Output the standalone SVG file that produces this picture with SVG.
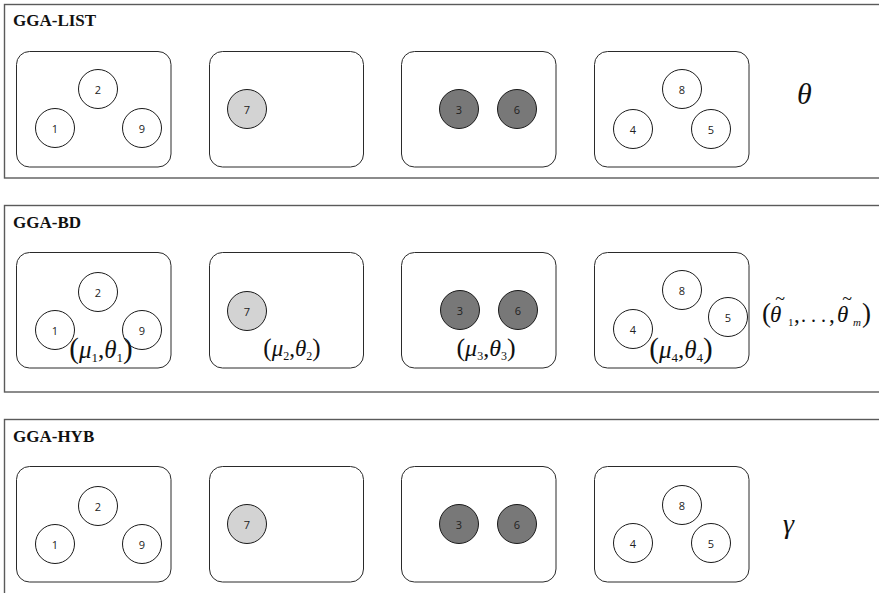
<svg xmlns="http://www.w3.org/2000/svg" width="879" height="593" viewBox="0 0 879 593">
<style>
.panel{fill:#fff;stroke:#5a5a5a;stroke-width:1.4}
.box{fill:#fff;stroke:#2a2a2a;stroke-width:1}
.c{stroke:#1a1a1a;stroke-width:1}
.w{fill:#fff}.l{fill:#d3d3d3}.d{fill:#787878}
.n{font-family:"Open Sans","Liberation Sans",sans-serif;font-size:11px;fill:#222;text-anchor:middle;dominant-baseline:central}
.title{font-family:"Liberation Serif","Times New Roman",serif;font-weight:bold;font-size:17px;fill:#111}
.m{font-family:"Liberation Serif","Times New Roman",serif;fill:#111}
.i{font-style:italic}
</style>
<rect width="879" height="593" fill="#fff"/>
<g id="panel-list">
<rect class="panel" x="4.5" y="4.5" width="900" height="173.5"/>
<text class="title" x="13" y="26">GGA-LIST</text>
</g>
<g id="panel-bd">
<rect class="panel" x="4.5" y="205.5" width="900" height="186.5"/>
<text class="title" x="13" y="228">GGA-BD</text>
</g>
<g id="panel-hyb">
<rect class="panel" x="4.5" y="419.5" width="900" height="200"/>
<text class="title" x="13" y="442">GGA-HYB</text>
</g>
<g id="connectors"></g>

<!-- Panel 1 -->
<g id="list-box1"><rect class="box" x="16.5" y="51.5" width="154.5" height="115.5" rx="13"/>
<circle class="c w" cx="98" cy="89" r="19.5"/><text class="n" x="98" y="89">2</text>
<circle class="c w" cx="55" cy="128" r="19.5"/><text class="n" x="55" y="128">1</text>
<circle class="c w" cx="142" cy="128" r="19.5"/><text class="n" x="142" y="128">9</text></g>
<g id="list-box2"><rect class="box" x="209.5" y="51.5" width="154" height="115.5" rx="13"/>
<circle class="c l" cx="247" cy="109" r="19.5"/><text class="n" x="247" y="109">7</text></g>
<g id="list-box3"><rect class="box" x="401.5" y="51.5" width="154.5" height="115.5" rx="13"/>
<circle class="c d" cx="459" cy="109" r="19.5"/><text class="n" x="459" y="109">3</text>
<circle class="c d" cx="517" cy="109" r="19.5"/><text class="n" x="517" y="109">6</text></g>
<g id="list-box4"><rect class="box" x="594.5" y="51.5" width="154.5" height="115.5" rx="13"/>
<circle class="c w" cx="682" cy="89" r="19.5"/><text class="n" x="682" y="89">8</text>
<circle class="c w" cx="633" cy="129" r="19.5"/><text class="n" x="633" y="129">4</text>
<circle class="c w" cx="711" cy="129" r="19.5"/><text class="n" x="711" y="129">5</text></g>
<text id="list-theta" class="m i" x="797" y="104" font-size="30">θ</text>

<!-- Panel 2 -->
<g id="bd-box1"><rect class="box" x="16.5" y="252.5" width="154.5" height="115.5" rx="13"/>
<circle class="c w" cx="98" cy="292" r="19.5"/><text class="n" x="98" y="292">2</text>
<circle class="c w" cx="55" cy="330" r="19.5"/><text class="n" x="55" y="330">1</text>
<circle class="c w" cx="142" cy="330" r="19.5"/><text class="n" x="142" y="330">9</text>
<text class="m" x="101" y="358" font-size="25" text-anchor="middle"><tspan font-size="29">(</tspan><tspan class="i">μ</tspan><tspan font-size="13" dy="4">1</tspan><tspan dy="-4">,</tspan><tspan class="i">θ</tspan><tspan font-size="13" dy="4">1</tspan><tspan font-size="29" dy="-4">)</tspan></text></g>
<g id="bd-box2"><rect class="box" x="209.5" y="252.5" width="154" height="115.5" rx="13"/>
<circle class="c l" cx="247" cy="311" r="19.5"/><text class="n" x="247" y="311">7</text>
<text class="m" x="292" y="356" font-size="23" text-anchor="middle"><tspan font-size="25">(</tspan><tspan class="i">μ</tspan><tspan font-size="12" dy="4">2</tspan><tspan dy="-4">,</tspan><tspan class="i">θ</tspan><tspan font-size="12" dy="4">2</tspan><tspan font-size="25" dy="-4">)</tspan></text></g>
<g id="bd-box3"><rect class="box" x="401.5" y="252.5" width="154.5" height="115.5" rx="13"/>
<circle class="c d" cx="460" cy="310" r="19.5"/><text class="n" x="460" y="310">3</text>
<circle class="c d" cx="518" cy="310" r="19.5"/><text class="n" x="518" y="310">6</text>
<text class="m" x="486" y="356" font-size="24" text-anchor="middle"><tspan font-size="26">(</tspan><tspan class="i">μ</tspan><tspan font-size="12" dy="4">3</tspan><tspan dy="-4">,</tspan><tspan class="i">θ</tspan><tspan font-size="12" dy="4">3</tspan><tspan font-size="26" dy="-4">)</tspan></text></g>
<g id="bd-box4"><rect class="box" x="594.5" y="252.5" width="154.5" height="115.5" rx="13"/>
<circle class="c w" cx="682" cy="290" r="19.5"/><text class="n" x="682" y="290">8</text>
<circle class="c w" cx="633" cy="329" r="19.5"/><text class="n" x="633" y="329">4</text>
<circle class="c w" cx="728" cy="317" r="19.5"/><text class="n" x="728" y="317">5</text>
<text class="m" x="681" y="358" font-size="25" text-anchor="middle"><tspan font-size="29">(</tspan><tspan class="i">μ</tspan><tspan font-size="13" dy="4">4</tspan><tspan dy="-4">,</tspan><tspan class="i">θ</tspan><tspan font-size="13" dy="4">4</tspan><tspan font-size="29" dy="-4">)</tspan></text></g>
<g id="bd-tuple">
<text class="m" y="322" font-size="23"><tspan x="762" font-size="27">(</tspan><tspan x="770" class="i">θ</tspan><tspan x="788" y="326" font-size="11">1</tspan><tspan x="794" y="322">,</tspan><tspan x="801" y="322" font-size="20">. . .</tspan><tspan x="829" y="322">,</tspan><tspan x="837" class="i">θ</tspan><tspan x="853" y="326" font-size="11" class="i">m</tspan><tspan x="862" y="322" font-size="27">)</tspan></text>
<text class="m" x="780" y="305" font-size="18" text-anchor="middle">~</text>
<text class="m" x="847" y="305" font-size="18" text-anchor="middle">~</text>
</g>

<!-- Panel 3 -->
<g id="hyb-box1"><rect class="box" x="16.5" y="466.5" width="154.5" height="115.5" rx="13"/>
<circle class="c w" cx="98" cy="506" r="19.5"/><text class="n" x="98" y="506">2</text>
<circle class="c w" cx="55" cy="544" r="19.5"/><text class="n" x="55" y="544">1</text>
<circle class="c w" cx="142" cy="544" r="19.5"/><text class="n" x="142" y="544">9</text></g>
<g id="hyb-box2"><rect class="box" x="209.5" y="466.5" width="154" height="115.5" rx="13"/>
<circle class="c l" cx="247" cy="524" r="19.5"/><text class="n" x="247" y="524">7</text></g>
<g id="hyb-box3"><rect class="box" x="401.5" y="466.5" width="154.5" height="115.5" rx="13"/>
<circle class="c d" cx="459" cy="524" r="19.5"/><text class="n" x="459" y="524">3</text>
<circle class="c d" cx="517" cy="524" r="19.5"/><text class="n" x="517" y="524">6</text></g>
<g id="hyb-box4"><rect class="box" x="594.5" y="466.5" width="154.5" height="115.5" rx="13"/>
<circle class="c w" cx="682" cy="505" r="19.5"/><text class="n" x="682" y="505">8</text>
<circle class="c w" cx="633" cy="543" r="19.5"/><text class="n" x="633" y="543">4</text>
<circle class="c w" cx="711" cy="543" r="19.5"/><text class="n" x="711" y="543">5</text></g>
<text id="hyb-gamma" class="m i" x="783" y="533" font-size="28">γ</text>
</svg>
